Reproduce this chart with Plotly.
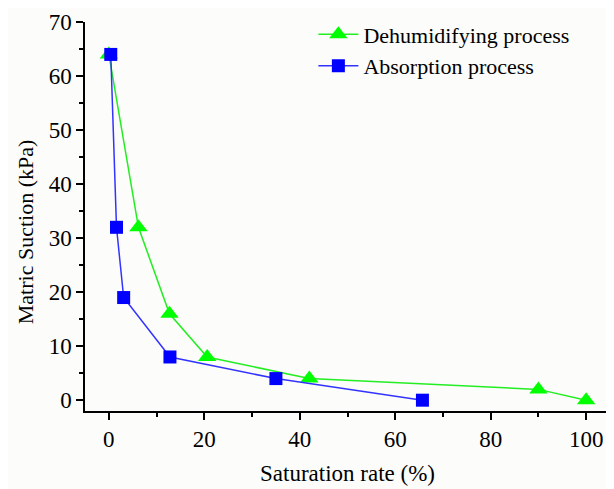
import plotly.graph_objects as go

deh_x = [0, 6.2, 12.7, 20.6, 42, 90, 100]
deh_y = [64, 32, 16, 8, 4, 2, 0]
abs_x = [0.4, 1.6, 3.1, 12.8, 35, 65.7]
abs_y = [64, 32, 19, 8, 4, 0]

x_ticks = [0, 20, 40, 60, 80, 100]
y_ticks = [0, 10, 20, 30, 40, 50, 60, 70]

font = "Liberation Serif, Times New Roman, serif"
FS = 23

fig = go.Figure()
fig.add_trace(go.Scatter(x=deh_x, y=deh_y, mode="lines+markers", name="Dehumidifying process",
                         line=dict(color="#22ee22", width=1.5),
                         marker=dict(symbol="triangle-up", size=16, color="#00ff00")))
fig.add_trace(go.Scatter(x=abs_x, y=abs_y, mode="lines+markers", name="Absorption process",
                         line=dict(color="#3333ff", width=1.5),
                         marker=dict(symbol="square", size=13, color="#0000ff")))

axis_common = dict(showline=True, linecolor="black", linewidth=1.5, ticks="outside",
                   ticklen=7, tickwidth=1.5, tickcolor="black", showgrid=False, zeroline=False,
                   tickfont=dict(family=font, size=FS, color="black"), mirror=False,
                   automargin=False)

fig.update_xaxes(range=[-5, 105], tickvals=x_ticks,
                 minor=dict(dtick=10, tick0=0, ticks="outside", ticklen=4, tickwidth=1.5, tickcolor="black"),
                 title=dict(text="Saturation rate (%)", font=dict(family=font, size=FS, color="black"), standoff=14),
                 **axis_common)
fig.update_yaxes(range=[-2, 70], tickvals=y_ticks,
                 minor=dict(dtick=5, tick0=0, ticks="outside", ticklen=4, tickwidth=1.5, tickcolor="black"),
                 **axis_common)

fig.add_annotation(text="Matric Suction (kPa)", xref="paper", yref="paper", x=-0.114, y=0.46,
                   textangle=-90, showarrow=False, xanchor="center", yanchor="middle",
                   font=dict(family=font, size=22, color="black"))

fig.update_layout(width=614, height=489, margin=dict(l=77, r=12, t=14, b=86, autoexpand=False),
                  plot_bgcolor="#fcfcfa", paper_bgcolor="#fcfcfa",
                  legend=dict(x=0.435, y=1.022, xanchor="left", yanchor="top", bgcolor="rgba(0,0,0,0)",
                              font=dict(family=font, size=22, color="black"), tracegroupgap=0,
                              itemwidth=40),
                  showlegend=True)

fig.write_html("out.html")
